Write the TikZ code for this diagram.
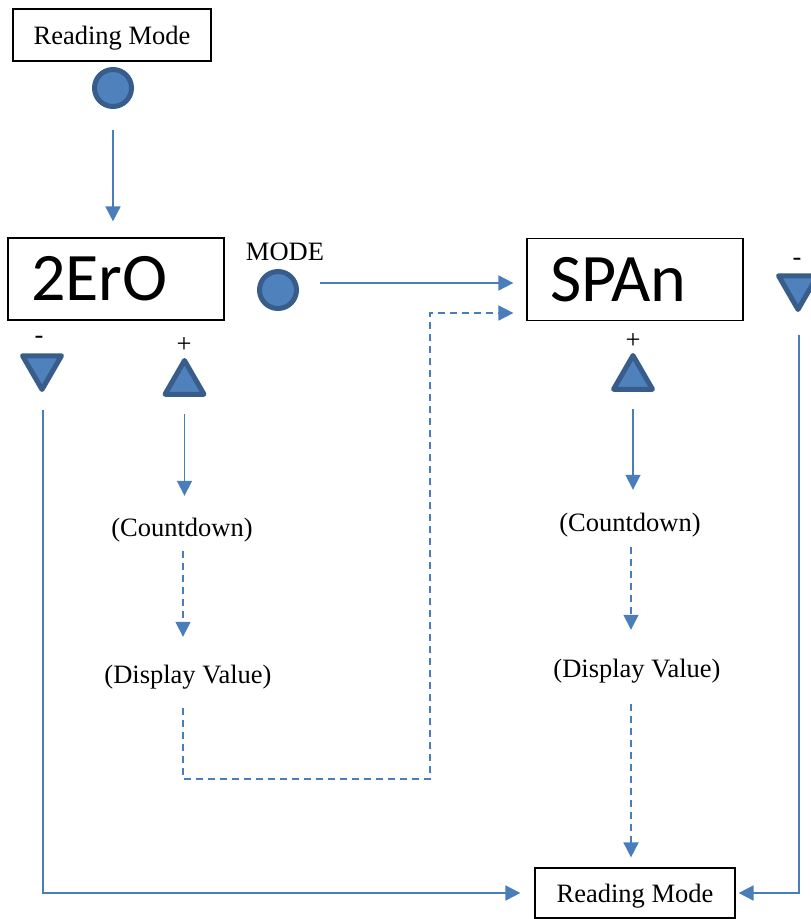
\documentclass[tikz,border=0pt]{standalone}
\usepackage{fontspec}
\setmainfont{Liberation Serif}
\newfontfamily\calfont{Carlito}
\usetikzlibrary{arrows.meta,shapes.geometric,calc}
\definecolor{lineblue}{HTML}{4A7EBB}
\definecolor{fillblue}{HTML}{4F81BD}
\definecolor{edgeblue}{HTML}{385D8A}
\begin{document}
\begin{tikzpicture}[x=1pt,y=-1pt,
 txt/.style={font=\fontsize{26.5}{30}\selectfont, inner sep=0pt, text height=18pt, text depth=6pt},
 boxnode/.style={draw, line width=1.2pt, font=\fontsize{26.5}{30}\selectfont, minimum width=198pt, minimum height=52pt, inner sep=0pt, text height=20pt, text depth=2pt},
 disp/.style={draw, line width=1.2pt, font=\calfont\fontsize{68}{70}\selectfont, minimum height=82pt, text width=170pt, align=left, inner xsep=23pt, inner ysep=0pt},
 btn/.style={circle, draw=edgeblue, fill=fillblue, line width=5pt, minimum size=37pt, inner sep=0pt},
 up/.style={regular polygon, regular polygon sides=3, draw=edgeblue, fill=fillblue, line width=5pt, line join=round, minimum size=45pt, inner sep=0pt, outer sep=0pt},
 down/.style={up, shape border rotate=180},
 arr/.style={draw=lineblue, line width=1.7pt, -{Triangle[length=15pt,width=15pt]}},
 dsh/.style={arr, dash pattern=on 7pt off 5pt},
]
\useasboundingbox (0,0) rectangle (811,919);
% nodes
\node[boxnode] (rm1) at (112,35) {Reading Mode};
\node[btn] (c1) at (113,88) {};
\node[disp] (zero) at (116,279) {2ErO};
\node[txt] (modelabel) at (285,254) {MODE};
\node[btn] (modec) at (278,290) {};
\node[disp] (span) at (635,279.5) {SPAn};
\node[txt] (rminus) at (797,259) {-};
\node[down] (rtri) at (798,287) {};
\node[txt] (lminus) at (39,337) {-};
\node[down] (ltri) at (42,367) {};
\node[txt] (lplus) at (184,346) {+};
\node[up] (lptri) at (184.5,383) {};
\node[txt] (rplus) at (633,342) {+};
\node[up] (rptri) at (633,378) {};
\node[txt] (cd1) at (182,530) {(Countdown)};
\node[txt] (dv1) at (188,677) {(Display Value)};
\node[txt] (cd2) at (630,525) {(Countdown)};
\node[txt] (dv2) at (637,671) {(Display Value)};
\node[boxnode, minimum width=200pt, minimum height=50pt] (rm2) at (635,893) {Reading Mode};
\coordinate (d1) at (183,779);
\coordinate (d2) at (430,779);
% connectors
\draw[arr, shorten <=21pt, shorten >=16pt] (c1.south) -- (c1.south |- zero.north);
\draw[arr, shorten >=13pt] ([xshift=21pt,yshift=7pt]modec.east) -- ([yshift=-3.5pt]span.west);
\draw[dsh, shorten >=13pt] ([yshift=-19pt]dv1.south -| d1) -- (d1) -- (d2) |- ([yshift=-33.5pt]span.west);
\draw[arr, shorten <=20pt, shorten >=22pt] (lptri.south) -- (lptri.south |- cd1.north);
\draw[dsh, shorten <=9pt, shorten >=28pt] (cd1.south -| d1) -- (d1 |- dv1.north);
\draw[arr, shorten >=14pt] ([yshift=-20pt,xshift=1pt]ltri.south) |- (rm2.west);
\draw[arr, shorten >=3pt] ([yshift=-25pt,xshift=1pt]rtri.south) |- (rm2.east);
\draw[arr, shorten <=20pt, shorten >=23pt] (rptri.south) -- (rptri.south |- cd2.north);
\draw[dsh, shorten <=10pt, shorten >=29pt] ([xshift=-2pt]rptri.south |- cd2.south) -- ([xshift=-2pt]rptri.south |- dv2.north);
\draw[dsh, shorten <=21pt, shorten >=10pt] ([xshift=-2pt]rptri.south |- dv2.south) -- ([xshift=-2pt]rptri.south |- rm2.north);
\end{tikzpicture}
\end{document}
